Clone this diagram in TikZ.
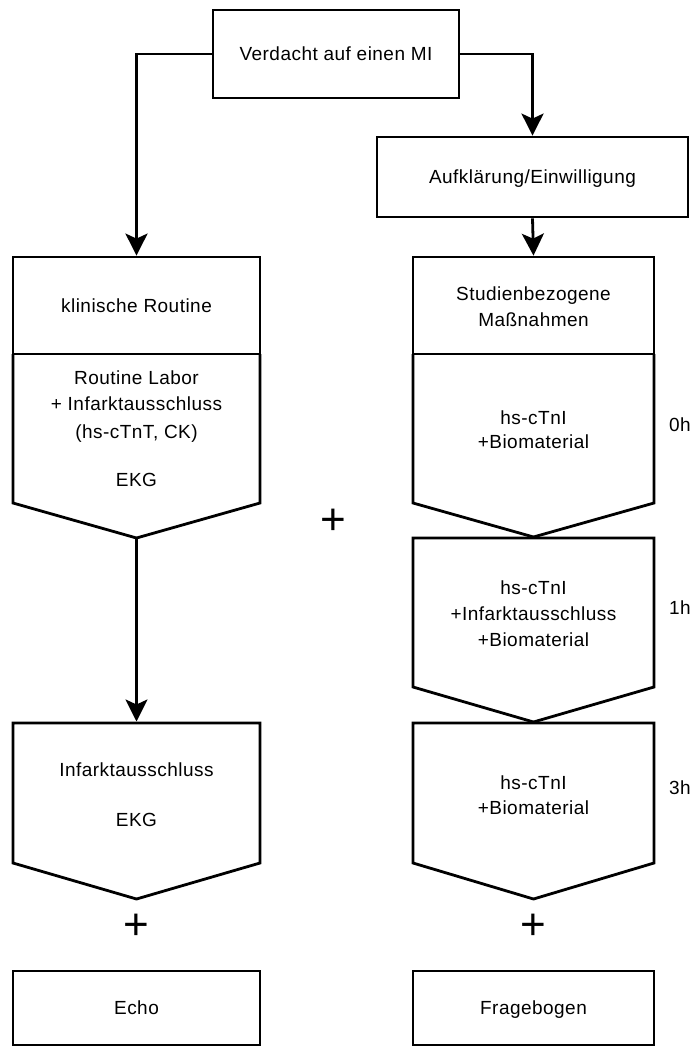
\documentclass[tikz,border=0pt]{standalone}
\usepackage{fontspec}
\setmainfont{Liberation Sans}[LetterSpace=2.5]
\usetikzlibrary{arrows.meta}
\begin{document}
\begin{tikzpicture}[x=1pt,y=-1pt,
  line width=2.8pt,
  box/.style={draw, line width=2.8pt, inner sep=0pt},
  txt/.style={font=\fontsize{19}{23}\selectfont, text height=13.5pt, text depth=0pt, inner sep=0pt},
  plus/.style={font=\fontsize{44}{44}\selectfont, inner sep=0pt},
  outline/.style={draw, line width=2.8pt, line join=miter},
  conn/.style={draw, line width=2.8pt, -{Stealth[length=22pt,width=22pt,inset=5pt]}},
]
\useasboundingbox (0,0) rectangle (698,1047);

% top boxes
\node[box, txt, minimum width=246pt, minimum height=88pt] (mi) at (336,54) {Verdacht auf einen MI};
\node[box, txt, minimum width=311pt, minimum height=80pt] (auf) at (532.5,177) {Aufklärung/Einwilligung};

% left column head + body
\node[box, txt, minimum width=247pt, minimum height=97pt] (klinhead) at (136.5,305.5) {klinische Routine};
\draw[outline] (13,354) -- (13,503) -- (136.5,538) -- (260,503) -- (260,354);
\node[txt] (rl1) at (136.5,378) {Routine Labor};
\node[txt] (rl2) at (136.5,404) {+ Infarktausschluss};
\node[txt] (rl3) at (136.5,432) {(hs-cTnT, CK)};
\node[txt] (rl4) at (136.5,480) {EKG};

% right column head + body
\node[box, minimum width=241pt, minimum height=97pt] (studhead) at (533.5,305.5) {};
\node[txt] (st1) at (533.5,294) {Studienbezogene};
\node[txt] (st2) at (533.5,320) {Maßnahmen};
\draw[outline] (413,354) -- (413,503) -- (533.5,537) -- (654,503) -- (654,354);
\node[txt] (r1a) at (533.5,418) {hs-cTnI};
\node[txt] (r1b) at (533.5,442) {+Biomaterial};
\node[txt] (h0) at (680,425) {0h};

% right box 2
\draw[outline] (413,538) -- (654,538) -- (654,687) -- (533.5,722) -- (413,687) -- cycle;
\node[txt] (r2a) at (533.5,588) {hs-cTnI};
\node[txt] (r2b) at (533.5,614) {+Infarktausschluss};
\node[txt] (r2c) at (533.5,640) {+Biomaterial};
\node[txt] (h1) at (680,608) {1h};

% right box 3
\draw[outline] (413,723) -- (654,723) -- (654,863) -- (533.5,899) -- (413,863) -- cycle;
\node[txt] (r3a) at (533.5,783) {hs-cTnI};
\node[txt] (r3b) at (533.5,808) {+Biomaterial};
\node[txt] (h3) at (680,788) {3h};

% left box 2
\draw[outline] (13,723) -- (260,723) -- (260,863) -- (136.5,899) -- (13,863) -- cycle;
\node[txt] (l2a) at (136.5,770) {Infarktausschluss};
\node[txt] (l2b) at (136.5,820) {EKG};

% plus signs
\node[plus] (pm) at (333,522) {+};
\node[plus] (pl) at (136.5,927) {+};
\node[plus] (pr) at (533.5,927) {+};

% bottom boxes
\node[box, txt, minimum width=247pt, minimum height=74pt] (echo) at (136.5,1008) {Echo};
\node[box, txt, minimum width=241pt, minimum height=74pt] (frage) at (533.5,1008) {Fragebogen};

% connectors
\coordinate (ktip) at (136.5,538);
\coordinate (l2top) at (136.5,721.5);
\draw[conn] (mi.west) -| (klinhead.north);
\draw[conn] (mi.east) -| (auf.north);
\draw[conn] (auf.south) -- (studhead.north);
\draw[conn] (ktip) -- (l2top);
\end{tikzpicture}
\end{document}
